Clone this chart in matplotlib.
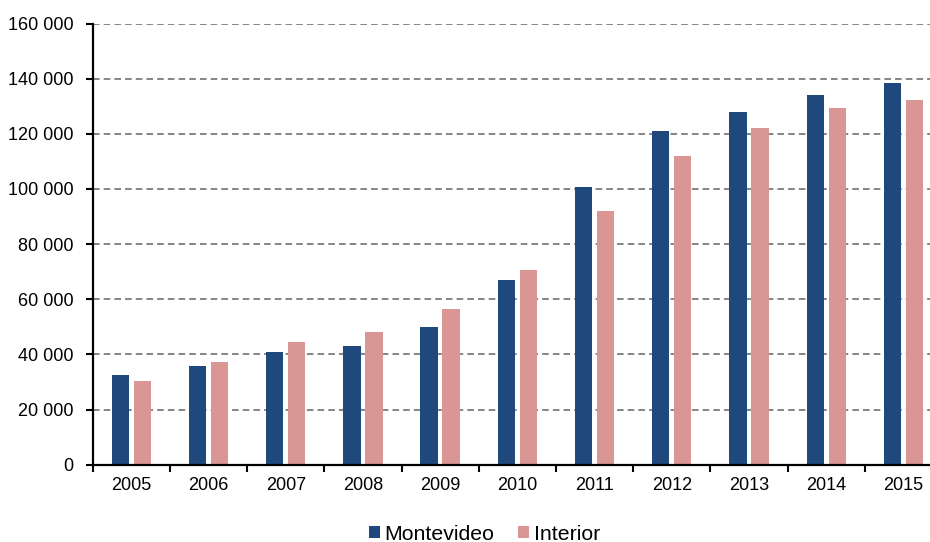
import numpy as np
import matplotlib
matplotlib.use("Agg")
import matplotlib.pyplot as plt
from matplotlib.ticker import FuncFormatter, MultipleLocator

plt.rcParams['font.family'] = ['Liberation Sans', 'DejaVu Sans']

years = [2005, 2006, 2007, 2008, 2009, 2010, 2011, 2012, 2013, 2014, 2015]
montevideo = [32400, 35700, 40800, 43100, 49800, 66800, 100700, 121100, 128000, 134000, 138500]
interior = [30200, 37400, 44500, 48200, 56500, 70600, 92000, 111800, 122200, 129400, 132200]

NAVY = '#1f497d'
PINK = '#d99694'

fig = plt.figure(figsize=(9.3, 5.42), dpi=100)
ax = fig.add_axes([92.7 / 930, 77.3 / 542, 1 - 92.7 / 930, 441.2 / 542])

x = np.arange(len(years))
w = 0.224
off = 0.1425
ax.bar(x - off, montevideo, w, color=NAVY, label='Montevideo', zorder=3)
ax.bar(x + off, interior, w, color=PINK, label='Interior', zorder=3)

ax.yaxis.set_major_locator(MultipleLocator(20000))
ax.yaxis.set_major_formatter(FuncFormatter(lambda v, p: f"{int(v):,}".replace(',', ' ')))
ax.grid(axis='y', color='#858585', lw=1.4, ls=(0, (3.4, 2.1)), zorder=1)

ax.set_xticks(x)
ax.set_xticklabels([str(y) for y in years])
ax.set_xticks(np.arange(-0.5, 10, 1.0), minor=True)
ax.tick_params(axis='x', which='major', length=0, pad=9, labelsize=13)
ax.tick_params(axis='x', which='minor', length=5, width=1.5, direction='out')
ax.tick_params(axis='y', length=5, width=1.5, pad=9, labelsize=13)

# the plot runs a little past the right edge of the figure
ax.set_ylim(0, 160000)
ax.set_xlim(-0.5, 10.5 - 12 / 77.2)

for s in ['top', 'right']:
    ax.spines[s].set_visible(False)
for s in ['left', 'bottom']:
    ax.spines[s].set_linewidth(1.6)
    ax.spines[s].set_zorder(4)

fig.legend(loc='center', bbox_to_anchor=(484.5 / 930, 1 - 534 / 542), ncol=2,
           frameon=False, fontsize=15.3, handlelength=0.52, handleheight=0.52,
           handletextpad=0.24, columnspacing=1.1, borderpad=0)

fig.savefig('out.png', dpi=100)
